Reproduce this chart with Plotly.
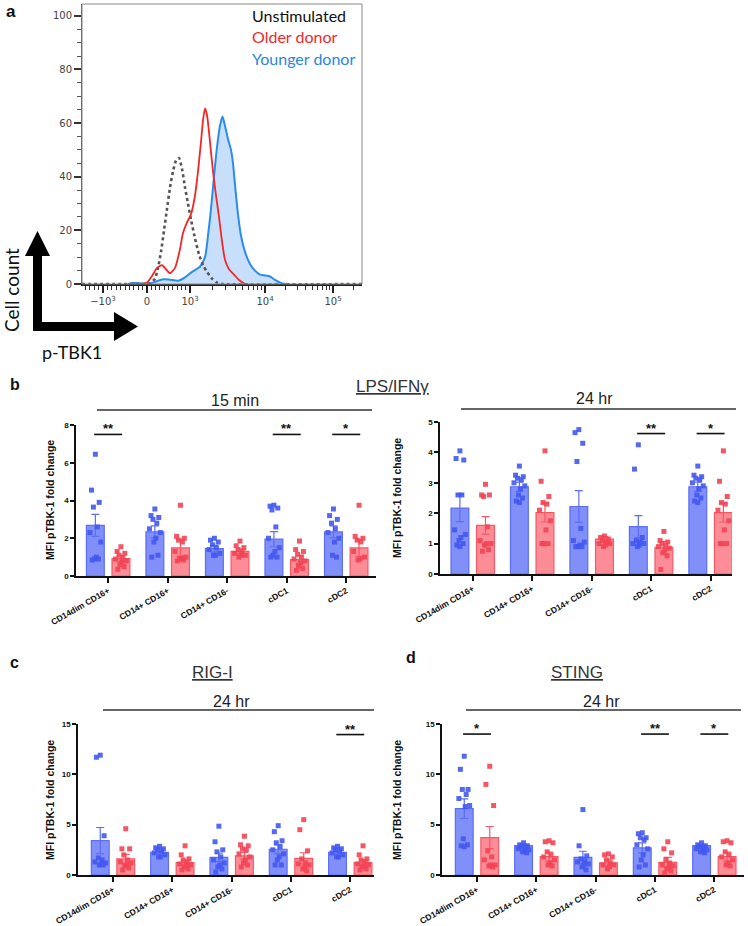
import plotly.graph_objects as go
import numpy as np

W, H = 748, 926
def fx(px): return px / W
def fy(py): return 1 - py / H

# ---------------- Panel a: flow histogram (x = biexponential display position 0..280) ----------------
hist_tick_pos = [21, 65, 108, 183, 251]
hist_tick_text = ["\u221210<sup>3</sup>", "0", "10<sup>3</sup>", "10<sup>4</sup>", "10<sup>5</sup>"]

unstim_x = [0, 58, 68, 73, 76, 79, 82, 85, 88, 91, 94, 97, 100, 103, 106, 109, 113, 117, 121, 125, 130, 135, 141, 280]
unstim_y = [0, 0, 0.2, 2, 6, 12, 20, 28, 36, 42, 46, 47, 43, 36, 30, 24, 17, 11, 7, 4.5, 2, 0.5, 0, 0]

older_x = [58, 65, 70, 75, 80, 84, 88, 93, 98, 101, 105, 109, 113, 116, 119, 121, 123, 125, 128, 131, 134, 137, 140, 143, 147, 152, 157, 163]
older_y = [0, 0.5, 3, 6, 7, 5.5, 4, 6, 13, 19, 23, 26, 33, 42, 53, 61, 65.5, 63, 53, 42, 33, 25, 16, 9, 5.5, 3.5, 1.5, 0]

younger_x = [46, 51, 58, 65, 73, 81, 88, 96, 103, 110, 118, 123, 126, 129, 132, 135, 138, 140.5, 143, 146, 149, 151, 153, 156, 159, 163, 168, 173, 178, 183, 188, 193, 200, 206]
younger_y = [0, 0.4, 0.3, 0, 0.8, 1.8, 1.6, 1.2, 2.5, 4.5, 6.5, 10, 18, 28, 40, 51, 59, 62.5, 59, 54, 50, 45, 37, 26, 18, 12, 7.5, 5, 3.5, 3.2, 2.8, 1.5, 0.2, 0]

# ---------------- Bar panels ----------------
categories = ["CD14dim CD16+", "CD14+ CD16+", "CD14+ CD16-", "cDC1", "cDC2"]

# LPS/IFNg 15 min
b15_young_mean = [2.68, 2.34, 1.45, 1.95, 2.34]
b15_young_sem = [0.58, 0.32, 0.17, 0.40, 0.32]
b15_old_mean = [0.92, 1.49, 1.30, 0.87, 1.49]
b15_old_sem = [0.15, 0.45, 0.13, 0.22, 0.45]
b15_young_pts = [
    [6.45, 4.55, 3.9, 3.65, 2.6, 2.3, 1.8, 1.0, 0.9, 0.9, 0.85],
    [3.55, 3.2, 3.1, 3.0, 2.8, 2.5, 2.3, 2.0, 1.8, 1.1, 1.0],
    [2.0, 1.9, 1.8, 1.65, 1.5, 1.4, 1.2, 1.1, 1.1],
    [3.75, 3.7, 3.6, 3.5, 2.6, 2.0, 1.5, 1.3, 1.1, 1.0, 1.0],
    [3.55, 3.2, 3.0, 2.8, 2.5, 2.3, 2.0, 1.8, 1.1, 1.0],
]
b15_old_pts = [
    [1.55, 1.3, 1.2, 1.1, 1.0, 0.9, 0.8, 0.75, 0.6, 0.5, 0.35],
    [3.75, 2.1, 2.0, 1.9, 1.8, 1.3, 1.0, 0.95, 0.9, 0.85, 0.8],
    [1.85, 1.6, 1.5, 1.4, 1.3, 1.2, 1.1, 1.1, 1.0],
    [1.85, 1.4, 1.3, 1.15, 1.0, 0.9, 0.8, 0.7, 0.55, 0.4, 0.3],
    [3.75, 2.1, 2.0, 1.9, 1.8, 1.3, 1.0, 0.9, 0.85],
]
b15_sig = [(0, "**", 7.5), (3, "**", 7.5), (4, "*", 7.5)]

# LPS/IFNg 24 hr
b24_young_mean = [2.17, 2.87, 2.22, 1.56, 2.87]
b24_young_sem = [0.45, 0.15, 0.52, 0.36, 0.15]
b24_old_mean = [1.60, 2.02, 1.15, 0.88, 2.02]
b24_old_sem = [0.29, 0.31, 0.08, 0.19, 0.31]
b24_young_pts = [
    [4.05, 3.8, 3.75, 2.6, 2.6, 1.45, 1.3, 1.2, 1.1, 1.0, 0.95, 0.9],
    [3.55, 3.25, 3.2, 3.15, 3.1, 3.0, 2.9, 2.8, 2.6, 2.5, 2.4, 2.35],
    [4.75, 4.65, 4.3, 3.7, 1.5, 1.1, 1.05, 0.95, 0.9, 0.9, 0.9],
    [4.25, 3.45, 1.2, 1.1, 1.05, 1.0, 1.0, 0.95, 0.9],
    [3.55, 3.25, 3.2, 3.15, 3.1, 3.0, 2.9, 2.8, 2.6, 2.5, 2.4, 2.35],
]
b24_old_pts = [
    [2.95, 2.6, 2.6, 2.55, 1.55, 1.1, 1.0, 1.0, 0.95, 0.8, 0.75],
    [4.05, 3.05, 2.55, 2.35, 2.3, 2.1, 1.75, 1.45, 1.0, 1.0, 1.0],
    [1.25, 1.2, 1.15, 1.1, 1.05, 1.0, 1.0, 0.95, 0.9],
    [1.4, 1.1, 1.05, 1.0, 0.95, 0.9, 0.85, 0.8, 0.7, 0.6, 0.15],
    [4.05, 3.05, 2.55, 2.35, 2.3, 2.1, 1.75, 1.45, 1.0, 1.0, 1.0],
]
b24_sig = [(3, "**", 4.62), (4, "*", 4.62)]

# RIG-I 24 hr
rig_young_mean = [3.42, 2.26, 1.76, 2.56, 2.26]
rig_young_sem = [1.3, 0.12, 0.4, 0.44, 0.12]
rig_old_mean = [1.6, 1.23, 1.9, 1.66, 1.23]
rig_old_sem = [0.45, 0.25, 0.35, 0.55, 0.25]
rig_young_pts = [
    [11.9, 11.7, 3.9, 1.7, 1.5, 1.3, 1.2, 1.1, 1.0, 1.0],
    [2.85, 2.7, 2.6, 2.5, 2.4, 2.2, 2.0, 1.8, 1.8],
    [4.85, 3.3, 2.5, 2.3, 1.8, 1.5, 1.2, 1.0, 0.8, 0.6, 0.3],
    [4.9, 4.3, 3.4, 3.2, 2.8, 2.5, 2.1, 1.8, 1.5, 1.0, 1.0],
    [2.85, 2.7, 2.6, 2.5, 2.4, 2.2, 2.0, 1.8, 1.8],
]
rig_old_pts = [
    [4.6, 2.6, 2.6, 2.0, 1.5, 1.3, 1.2, 1.0, 0.9, 0.7, 0.5],
    [2.9, 2.0, 1.6, 1.5, 1.3, 1.1, 1.0, 0.9, 0.8, 0.6, 0.5],
    [3.85, 3.0, 2.9, 2.6, 2.5, 2.1, 1.8, 1.5, 1.2, 1.0, 0.8],
    [5.5, 4.5, 2.4, 1.6, 1.2, 1.1, 1.0, 0.8, 0.6, 0.4],
    [2.9, 2.0, 1.6, 1.5, 1.3, 1.1, 1.0, 0.9, 0.8, 0.6, 0.5],
]
rig_sig = [(4, "**", 13.95)]

# STING 24 hr
sting_young_mean = [6.6, 2.92, 1.76, 2.69, 2.92]
sting_young_sem = [0.97, 0.12, 0.6, 0.5, 0.12]
sting_old_mean = [3.72, 1.83, 1.2, 1.26, 1.83]
sting_old_sem = [1.1, 0.45, 0.3, 0.5, 0.45]
sting_young_pts = [
    [11.8, 10.5, 8.5, 8.5, 8.0, 7.6, 6.9, 6.8, 3.6, 3.0, 2.9, 2.8],
    [3.2, 3.0, 2.9, 2.8, 2.7, 2.6, 2.5, 2.4, 2.3, 2.2],
    [6.5, 2.9, 1.9, 1.6, 1.4, 1.3, 1.1, 1.0, 0.8, 0.5],
    [4.2, 4.1, 3.7, 3.7, 3.5, 3.0, 2.6, 2.0, 1.5, 1.0, 0.8],
    [3.2, 3.0, 2.9, 2.8, 2.7, 2.6, 2.5, 2.4, 2.3, 2.2],
]
sting_old_pts = [
    [10.8, 9.0, 6.9, 2.4, 1.8, 1.5, 1.0, 1.0, 0.9, 0.8],
    [3.4, 3.3, 3.2, 2.3, 2.0, 1.8, 1.5, 1.2, 1.0, 0.9],
    [2.1, 2.0, 1.8, 1.5, 1.2, 1.0, 1.0, 0.8, 0.6],
    [3.3, 2.6, 2.2, 1.5, 1.2, 1.0, 0.9, 0.8, 0.6, 0.4, 0.2],
    [3.4, 3.3, 3.2, 2.3, 2.0, 1.8, 1.5, 1.2, 1.0, 0.9],
]
sting_sig = [(0, "*", 14.0), (3, "**", 14.0), (4, "*", 14.0)]

# ---------------- styling ----------------
ARIAL = "Liberation Sans, Arial, sans-serif"
GILL = "Lato, Open Sans, sans-serif"
BLUE_BAR = "rgba(112,128,248,0.88)"
BLUE_EDGE = "rgb(92,110,246)"
BLUE_PT = "rgba(66,88,240,0.9)"
RED_BAR = "rgba(252,120,132,0.85)"
RED_EDGE = "rgb(246,88,102)"
RED_PT = "rgba(242,68,84,0.9)"
OFF = 0.215
BW = 0.30

fig = go.Figure()

# ---- panel a traces
fig.add_trace(go.Scatter(x=younger_x, y=younger_y, mode="lines", line=dict(color="#2b8cf0", width=2, shape="spline", smoothing=0.6),
                         fill="tozeroy", fillcolor="rgba(70,150,240,0.30)", xaxis="x", yaxis="y", showlegend=False, hoverinfo="skip"))
fig.add_trace(go.Scatter(x=unstim_x, y=unstim_y, mode="lines", line=dict(color="#555555", width=2.6, dash="dot", shape="spline", smoothing=0.5),
                         xaxis="x", yaxis="y", showlegend=False, hoverinfo="skip"))
fig.add_trace(go.Scatter(x=older_x, y=older_y, mode="lines", line=dict(color="#f02828", width=1.8, shape="spline", smoothing=0.6),
                         xaxis="x", yaxis="y", showlegend=False, hoverinfo="skip"))

# minor ticks for biex axis
minor_vals = []
for k in range(1, 10):
    minor_vals.append(21 + (65 - 21) * k / 10)
    minor_vals.append(65 + (108 - 65) * k / 10)
for k in range(2, 10):
    minor_vals.append(108 + 75 * np.log10(k))
    minor_vals.append(183 + 68 * np.log10(k))
    v = 251 + 68 * np.log10(k)
    if v < 280:
        minor_vals.append(v)
for k in range(1, 5):
    minor_vals.append(21 - 4.4 * k)

layout_axes = {}
layout_axes["xaxis"] = dict(domain=[fx(82), fx(362)], range=[0, 280], anchor="y", showgrid=False, zeroline=False,
                            automargin=False,
                            tickvals=hist_tick_pos, ticktext=hist_tick_text, ticks="outside", ticklen=7, tickwidth=1.5,
                            tickcolor="#222", showline=True, linecolor="#222", linewidth=1.5,
                            tickfont=dict(family="DejaVu Sans", size=10, color="#444"),
                            minor=dict(tickvals=minor_vals, ticks="outside", ticklen=4, tickcolor="#333", tickwidth=1))
layout_axes["yaxis"] = dict(domain=[fy(284), fy(4)], range=[0, 104.4], anchor="x", showgrid=False, zeroline=False,
                            automargin=False,
                            tickvals=[0, 20, 40, 60, 80, 100], ticks="outside", ticklen=7, tickwidth=1.5, tickcolor="#333",
                            showline=True, linecolor="#555", linewidth=1,
                            tickfont=dict(family="DejaVu Sans", size=10, color="#444"),
                            minor=dict(dtick=5, ticks="outside", ticklen=4, tickcolor="#555", tickwidth=1))

shapes = []
annotations = []

shapes.append(dict(type="rect", xref="x domain", yref="y domain", x0=0, x1=1, y0=0, y1=1,
                   line=dict(color="#888", width=1), fillcolor="rgba(0,0,0,0)", layer="above"))

def jitter(n):
    pattern = [0, -1, 1, -0.5, 0.5, -1.4, 1.4, 0.25, -0.25, 0.8, -0.8, 0]
    return [pattern[k % len(pattern)] * 0.065 for k in range(n)]

def bar_panel(idx, xdom, xrange, ydom, yrange, ydtick, ym, ys, om, osem, ypts, opts, sig):
    xa, ya = f"x{idx}", f"y{idx}"
    xc = np.arange(len(categories))
    fig.add_trace(go.Bar(x=xc - OFF, y=ym, width=BW, marker=dict(color=BLUE_BAR, line=dict(color=BLUE_EDGE, width=1.2)),
                         error_y=dict(type="data", array=ys, color=BLUE_EDGE, thickness=1.2, width=4),
                         xaxis=xa, yaxis=ya, showlegend=False, hoverinfo="skip"))
    fig.add_trace(go.Bar(x=xc + OFF, y=om, width=BW, marker=dict(color=RED_BAR, line=dict(color=RED_EDGE, width=1.2)),
                         error_y=dict(type="data", array=osem, color=RED_EDGE, thickness=1.2, width=4),
                         xaxis=xa, yaxis=ya, showlegend=False, hoverinfo="skip"))
    px_, py_, rx_, ry_ = [], [], [], []
    for i in range(len(categories)):
        j = jitter(len(ypts[i]))
        px_ += [i - OFF + d for d in j]; py_ += ypts[i]
        j = jitter(len(opts[i]))
        rx_ += [i + OFF + d for d in j]; ry_ += opts[i]
    fig.add_trace(go.Scatter(x=px_, y=py_, mode="markers", marker=dict(symbol="square", size=5, color=BLUE_PT),
                             xaxis=xa, yaxis=ya, showlegend=False, hoverinfo="skip", cliponaxis=False))
    fig.add_trace(go.Scatter(x=rx_, y=ry_, mode="markers", marker=dict(symbol="square", size=5, color=RED_PT),
                             xaxis=xa, yaxis=ya, showlegend=False, hoverinfo="skip", cliponaxis=False))
    layout_axes[f"xaxis{idx}"] = dict(domain=[fx(xdom[0]), fx(xdom[1])], range=xrange, anchor=ya,
                                      automargin=False,
                                      tickvals=list(xc), ticktext=categories, tickangle=-30, ticks="outside",
                                      ticklen=5, tickwidth=1.5, tickcolor="#111", showline=True, linecolor="#111",
                                      linewidth=1.5, showgrid=False, zeroline=False,
                                      tickfont=dict(family=ARIAL, size=8.5, color="#111", weight="bold"))
    layout_axes[f"yaxis{idx}"] = dict(domain=[fy(ydom[1]), fy(ydom[0])], range=yrange, anchor=xa, dtick=ydtick,
                                      automargin=False,
                                      ticks="outside", ticklen=4, tickwidth=1.5, tickcolor="#111", showline=True,
                                      linecolor="#111", linewidth=1.5, showgrid=False, zeroline=False,
                                      tickfont=dict(family=ARIAL, size=8, color="#111", weight="bold"))
    for (ci, lab, yv) in sig:
        shapes.append(dict(type="line", xref=xa, yref=ya, x0=ci - OFF - 0.02, x1=ci + OFF + 0.02, y0=yv, y1=yv,
                           line=dict(color="#111", width=1.6)))
        annotations.append(dict(xref=xa, yref=ya, x=ci, y=yv, text=f"<b>{lab}</b>", showarrow=False,
                                yanchor="bottom", yshift=-4, font=dict(family=ARIAL, size=13, color="#111")))

bar_panel(2, (76, 376), [-0.54, 4.50], (425, 576), [0, 8], 2, b15_young_mean, b15_young_sem, b15_old_mean, b15_old_sem,
          b15_young_pts, b15_old_pts, b15_sig)
bar_panel(3, (440, 732), [-0.55, 4.36], (422, 574), [0, 5], 1, b24_young_mean, b24_young_sem, b24_old_mean, b24_old_sem,
          b24_young_pts, b24_old_pts, b24_sig)
bar_panel(4, (78, 374), [-0.59, 4.40], (724, 875), [0, 15], 5, rig_young_mean, rig_young_sem, rig_old_mean, rig_old_sem,
          rig_young_pts, rig_old_pts, rig_sig)
bar_panel(5, (442, 744), [-0.59, 4.50], (724, 875), [0, 15], 5, sting_young_mean, sting_young_sem, sting_old_mean, sting_old_sem,
          sting_young_pts, sting_old_pts, sting_sig)

def text(x, y, s, size, color="#111", family=ARIAL, xanchor="center", angle=0, bold=False):
    annotations.append(dict(xref="paper", yref="paper", x=fx(x), y=fy(y), text=(f"<b>{s}</b>" if bold else s),
                            showarrow=False, xanchor=xanchor, yanchor="middle", textangle=angle,
                            font=dict(family=family, size=size, color=color)))

def hline(x0, x1, y, w=1.5):
    shapes.append(dict(type="line", xref="paper", yref="paper", x0=fx(x0), x1=fx(x1), y0=fy(y), y1=fy(y),
                       line=dict(color="#333", width=w)))

# panel letters
text(4, 11, "a", 17, xanchor="left", bold=True)
text(8, 384, "b", 16, xanchor="left", bold=True)
text(8, 662, "c", 16, xanchor="left", bold=True)
text(404, 657, "d", 16, xanchor="left", bold=True)

# panel a legend texts & axis arrows
text(250, 16, "Unstimulated", 16, color="#111", family=GILL, xanchor="left")
text(250, 37, "Older donor", 16, color="#f02828", family=GILL, xanchor="left")
text(250, 58, "Younger donor", 16, color="#2a86e0", family=GILL, xanchor="left")
text(12, 290, "Cell count", 19, family=GILL, angle=-90)
text(72, 352, "p-TBK1", 18, family=GILL)

def poly(points):
    d = "M " + " L ".join(f"{fx(a):.5f},{fy(b):.5f}" for a, b in points) + " Z"
    shapes.append(dict(type="path", xref="paper", yref="paper", path=d, fillcolor="#000", line=dict(width=0)))

poly([(33, 331), (33, 256), (25, 256), (37.5, 231), (50, 256), (42, 256), (42, 331)])
poly([(33, 322), (114, 322), (114, 312), (138, 326.5), (114, 341), (114, 331), (33, 331)])

# titles
text(392, 386, "<u>LPS/IFN\u03b3</u>", 17, color="#333")
text(235, 400, "15 min", 16, color="#222")
text(594, 398, "24 hr", 16, color="#222")
hline(97, 372, 410)
hline(461, 736, 409)
text(212, 672, "<u>RIG-I</u>", 17, color="#333")
text(231, 701, "24 hr", 16, color="#222")
hline(103, 374, 710)
text(577, 672, "<u>STING</u>", 17, color="#333")
text(601, 701, "24 hr", 16, color="#222")
hline(466, 741, 710)

# y titles
ytitle = "MFI pTBK-1 fold change"
text(50, 500, ytitle, 10.5, angle=-90, bold=True)
text(397, 498, ytitle, 10.5, angle=-90, bold=True)
text(50, 800, ytitle, 10.5, angle=-90, bold=True)
text(397, 800, ytitle, 10.5, angle=-90, bold=True)

fig.update_layout(width=W, height=H, margin=dict(l=0, r=0, t=0, b=0, autoexpand=False), paper_bgcolor="white",
                  plot_bgcolor="white", barmode="overlay", showlegend=False, shapes=shapes, annotations=annotations,
                  **layout_axes)

fig.write_html("out.html", config={"displayModeBar": False},
               post_script="document.body.style.margin='0';document.body.style.overflow='hidden';")
